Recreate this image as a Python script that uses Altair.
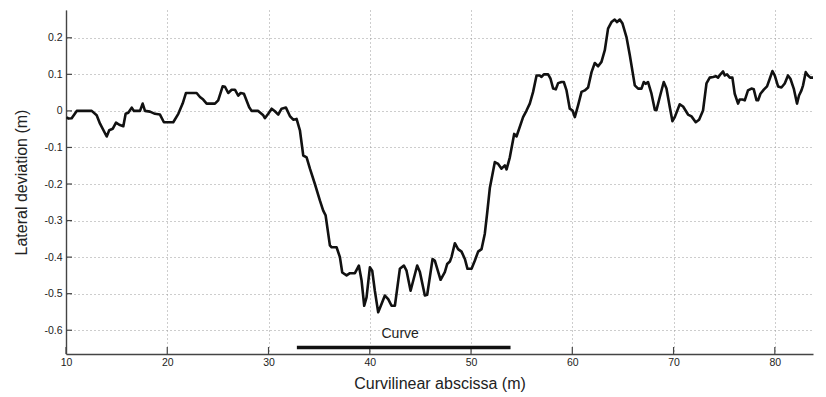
import altair as alt
import pandas as pd

# Curvilinear abscissa (m)
xs = [10.07, 10.23, 10.56, 11.06, 12.54, 13.03, 13.36, 14.02, 14.27, 14.61, 14.94, 15.26, 15.66,
      15.89, 16.15, 16.49, 16.71, 17.31, 17.57, 17.80, 18.29, 18.79, 19.28, 19.67, 20.59, 21.09,
      21.52, 21.85, 22.90, 23.23, 23.55, 23.89, 24.71, 25.03, 25.47, 25.70, 26.02, 26.36, 26.68,
      27.01, 27.25, 27.57, 28.09, 28.33, 28.98, 29.48, 29.64, 29.97, 30.31, 30.63, 30.96, 31.29,
      31.72, 32.11, 32.44, 32.77, 33.10, 33.43, 33.76, 34.09, 34.58, 35.07, 35.40, 35.64, 36.06,
      36.23, 36.72, 37.05, 37.28, 37.71, 38.04, 38.53, 38.92, 39.19, 39.45, 39.68, 40.01, 40.24,
      40.50, 40.83, 41.16, 41.49, 41.82, 42.15, 42.48, 42.97, 43.37, 43.63, 44.03, 44.68, 44.95,
      45.44, 45.67, 46.20, 46.43, 46.99, 47.41, 47.64, 47.91, 48.07, 48.40, 48.72, 49.06, 49.39,
      49.65, 50.05, 50.37, 50.70, 51.04, 51.36, 51.59, 51.86, 52.35, 52.68, 53.01, 53.34, 53.51,
      53.83, 54.26, 54.49, 55.14, 55.48, 55.80, 56.13, 56.47, 56.79, 56.96, 57.19, 57.61, 57.85,
      58.11, 58.37, 58.60, 58.93, 59.16, 59.43, 59.75, 60.02, 60.25, 60.57, 60.91, 61.23, 61.56,
      61.90, 62.22, 62.55, 62.88, 63.21, 63.53, 63.87, 64.19, 64.42, 64.69, 64.96, 65.35, 65.68,
      66.17, 66.50, 66.83, 67.06, 67.26, 67.48, 67.82, 68.15, 68.31, 68.64, 69.03, 69.30, 69.63,
      69.89, 70.12, 70.61, 70.94, 71.43, 71.77, 72.19, 72.52, 72.91, 73.25, 73.57, 73.90, 74.17,
      74.39, 74.63, 74.89, 75.06, 75.28, 75.55, 75.81, 76.04, 76.37, 76.53, 76.80, 77.03, 77.35,
      77.69, 77.92, 78.19, 78.35, 78.58, 78.91, 79.23, 79.50, 79.76, 79.99, 80.32, 80.65, 80.98,
      81.30, 81.54, 81.87, 82.19, 82.39, 82.63, 82.79, 83.05, 83.28, 83.51, 83.77]

# Lateral deviation (m)
ys = [-0.017, -0.021, -0.020, 0.000, 0.000, -0.012, -0.035, -0.070, -0.053, -0.049, -0.032, -0.038,
      -0.042, -0.008, -0.005, 0.009, 0.000, 0.000, 0.020, 0.000, -0.002, -0.008, -0.010, -0.031,
      -0.031, -0.008, 0.020, 0.049, 0.049, 0.038, 0.031, 0.020, 0.020, 0.029, 0.067, 0.066, 0.049,
      0.058, 0.058, 0.042, 0.049, 0.047, 0.010, 0.000, 0.000, -0.012, -0.020, -0.008, 0.006, -0.001,
      -0.010, 0.006, 0.009, -0.014, -0.024, -0.022, -0.053, -0.122, -0.127, -0.158, -0.200, -0.245,
      -0.273, -0.286, -0.368, -0.373, -0.373, -0.400, -0.442, -0.450, -0.444, -0.444, -0.423, -0.464,
      -0.533, -0.510, -0.428, -0.437, -0.492, -0.551, -0.528, -0.505, -0.515, -0.533, -0.533, -0.432,
      -0.423, -0.437, -0.492, -0.423, -0.441, -0.505, -0.503, -0.405, -0.410, -0.462, -0.441, -0.419,
      -0.412, -0.400, -0.362, -0.378, -0.385, -0.405, -0.432, -0.432, -0.410, -0.385, -0.378, -0.336,
      -0.280, -0.210, -0.140, -0.145, -0.158, -0.149, -0.160, -0.127, -0.063, -0.070, -0.017, 0.001,
      0.020, 0.052, 0.097, 0.097, 0.093, 0.100, 0.100, 0.088, 0.061, 0.059, 0.076, 0.079, 0.079,
      0.056, 0.006, 0.001, -0.017, 0.015, 0.052, 0.056, 0.064, 0.106, 0.131, 0.122, 0.134, 0.166,
      0.225, 0.243, 0.250, 0.243, 0.250, 0.239, 0.202, 0.152, 0.070, 0.061, 0.061, 0.079, 0.074,
      0.079, 0.047, 0.003, 0.002, 0.038, 0.079, 0.061, 0.010, -0.028, -0.017, 0.018, 0.012, -0.010,
      -0.015, -0.031, -0.024, 0.001, 0.075, 0.091, 0.093, 0.095, 0.091, 0.100, 0.108, 0.097, 0.100,
      0.091, 0.091, 0.047, 0.020, 0.031, 0.031, 0.029, 0.056, 0.061, 0.059, 0.029, 0.029, 0.047,
      0.058, 0.067, 0.088, 0.109, 0.097, 0.067, 0.064, 0.075, 0.097, 0.088, 0.061, 0.020, 0.042,
      0.056, 0.070, 0.106, 0.097, 0.091, 0.091]

x_ticks = [10, 20, 30, 40, 50, 60, 70, 80]
y_ticks = [-0.6, -0.5, -0.4, -0.3, -0.2, -0.1, 0.0, 0.1, 0.2]

curve_label = ["Curve"]
curve_start = [32.8]
curve_end = [53.9]
curve_level = [-0.647]
curve_label_x = [43.0]
curve_label_y = [-0.609]

X_DOMAIN = [10, 83.77]
Y_DOMAIN = [-0.665, 0.276]
FONT = "Liberation Sans"

df = pd.DataFrame({"x": xs, "y": ys})
df_curve = pd.DataFrame({"x": curve_start, "x2": curve_end, "y": curve_level})
df_label = pd.DataFrame({"x": curve_label_x, "y": curve_label_y, "t": curve_label})
df_xt = pd.DataFrame({"x": x_ticks})
df_yt = pd.DataFrame({"y": y_ticks})

xscale = alt.Scale(domain=X_DOMAIN, nice=False, zero=False)
yscale = alt.Scale(domain=Y_DOMAIN, nice=False, zero=False)

ylabel_expr = ("datum.value == 0 ? '0' : (datum.value < 0 ? '-' + format(-datum.value, '.1f') "
               ": format(datum.value, '.1f'))")

line = alt.Chart(df).mark_line(color="#111111", strokeWidth=2.6, strokeJoin="round").encode(
    x=alt.X("x:Q", scale=xscale,
            axis=alt.Axis(title="Curvilinear abscissa (m)", values=x_ticks, format="d",
                          labelPadding=3, titlePadding=8, labelFlush=False)),
    y=alt.Y("y:Q", scale=yscale,
            axis=alt.Axis(title="Lateral deviation (m)", values=y_ticks, labelExpr=ylabel_expr,
                          labelPadding=4, titlePadding=14, labelFlush=False)),
)

curve_bar = alt.Chart(df_curve).mark_rule(color="#111111", strokeWidth=3.5).encode(
    x=alt.X("x:Q", scale=xscale), x2="x2:Q", y=alt.Y("y:Q", scale=yscale)
)

curve_text = alt.Chart(df_label).mark_text(font=FONT, fontSize=14, color="#222222",
                                           baseline="middle", align="center").encode(
    x=alt.X("x:Q", scale=xscale), y=alt.Y("y:Q", scale=yscale), text="t:N"
)

xtick_marks = alt.Chart(df_xt).mark_rule(color="#444444", strokeWidth=1.2).encode(
    x=alt.X("x:Q", scale=xscale), y=alt.value(344), y2=alt.value(337)
)
ytick_marks = alt.Chart(df_yt).mark_rule(color="#444444", strokeWidth=1.2).encode(
    y=alt.Y("y:Q", scale=yscale), x=alt.value(0), x2=alt.value(6)
)

chart = alt.layer(line, xtick_marks, ytick_marks, curve_bar, curve_text).properties(
    width=747, height=344,
    autosize=alt.AutoSizeParams(type="none"),
    padding={"left": 66, "top": 10, "right": 13, "bottom": 43},
    background="white",
).configure_view(stroke=None).configure_axis(
    grid=True, gridColor="#9a9a9a", gridDash=[1, 3], gridWidth=1,
    domainColor="#444444", domainWidth=1.4, ticks=False,
    labelFont=FONT, labelFontSize=10.5, labelColor="#222222",
    titleFont=FONT, titleFontSize=16, titleFontWeight="normal", titleColor="#222222",
)

chart.save("out.html", embed_options={"renderer": "svg", "actions": False})
